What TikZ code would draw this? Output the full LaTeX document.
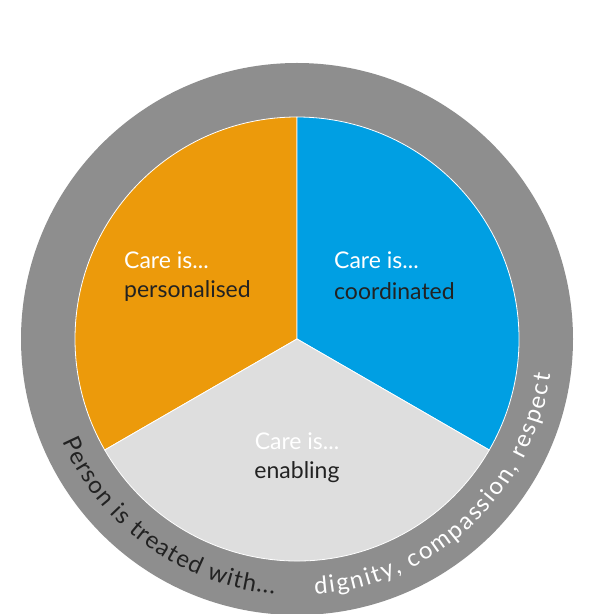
\documentclass[tikz,border=0pt]{standalone}
\usepackage{fontspec}
\setmainfont{Lato}
\usetikzlibrary{decorations.text}
\definecolor{careorange}{HTML}{EC9A0B}
\definecolor{careblue}{HTML}{009FE3}
\definecolor{carelight}{HTML}{DEDEDE}
\definecolor{ringgray}{HTML}{8E8E8E}
\definecolor{textdark}{HTML}{222222}

\tikzset{
  head/.style={text=white, font=\fontsize{23}{27}\selectfont, inner sep=0pt},
  kind/.style={text=textdark, font=\fontsize{23}{27}\selectfont, inner sep=0pt},
}

\begin{document}
\begin{tikzpicture}[x=1pt,y=1pt]
        \useasboundingbox (0,0) rectangle (610,614);
        \fill[white] (0,0) rectangle (610,614);
        \coordinate (c) at (297,275);
        \fill[ringgray] (c) circle (276);
        %\node at (c){x};
        \fill[careorange, draw=white, thick] (c) -- ++(90:222) arc (90:210:222) -- cycle;
        \fill[careblue, draw=white, thick] (c) -- ++(-30:222) arc (-30:90:222) -- cycle;
        \fill[carelight, draw=white, thick] (c) -- ++(210:222) arc (210:330:222) -- cycle;
        \node[head, anchor=west] (ph) at (124,354) {Care is...};
        \node[kind, anchor=west] (pk) at (124,323) {personalised};
        \node[head, anchor=west] (ch) at (334,354) {Care is...};
        \node[kind, anchor=west] (ck) at (334,323) {coordinated};
        \node[head] (eh) at (297,173) {Care is...};
        \node[kind] (ek) at (297,142) {enabling};
        \path[decorate, decoration={text along path, text align={fit to path},
            text={|\fontsize{24}{28}\selectfont\color{textdark}|Person is treated with...}}]
            (c) ++(203.5:256) arc (203.5:265:256);
        \path[decorate, decoration={text along path, text align={fit to path},
            text={|\fontsize{24}{28}\selectfont\color{white}|dignity, compassion, respect}}]
            (c) ++(274:256) arc (274:352:256);
    \end{tikzpicture}
\end{document}
